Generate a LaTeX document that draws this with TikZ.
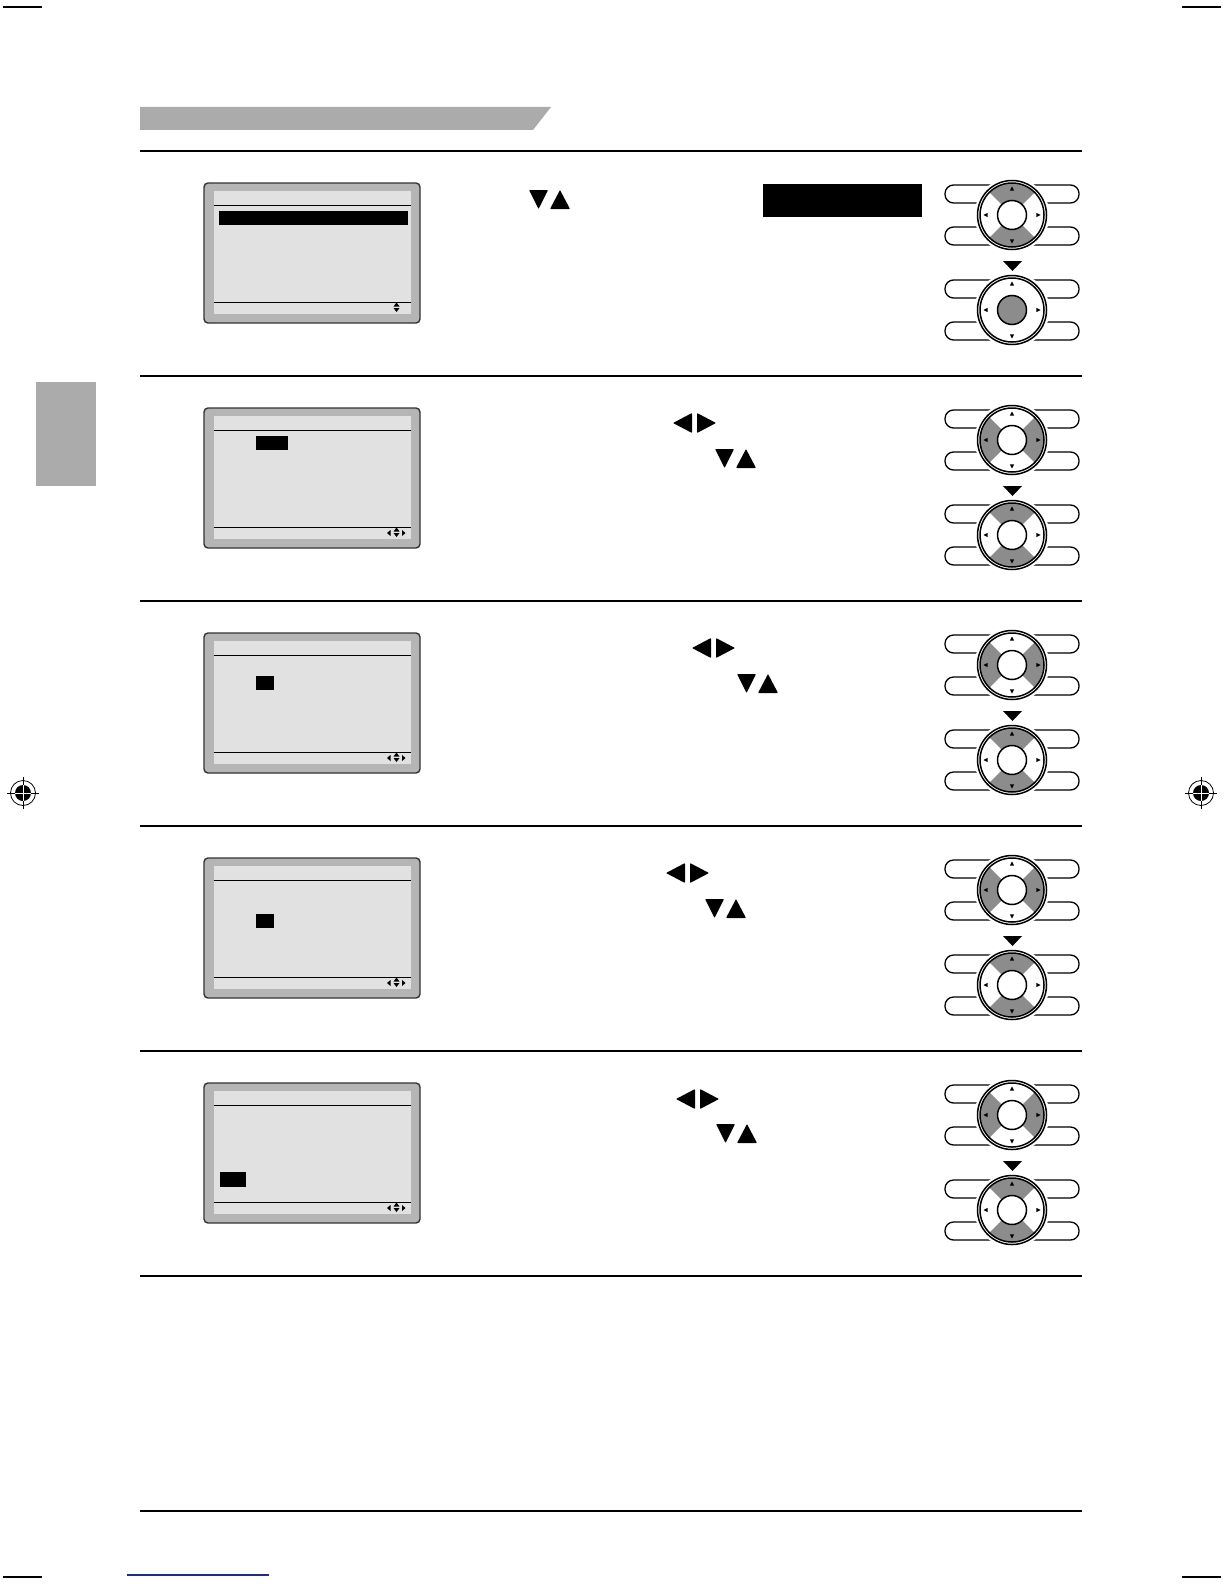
\documentclass[tikz,border=0pt]{standalone}
\usepackage{xcolor}
\usepackage{tikz}
\usetikzlibrary{calc}
\definecolor{bandgray}{HTML}{ABABAB}
\definecolor{framegray}{HTML}{B5B5B5}
\definecolor{lcdgray}{HTML}{E1E1E1}
\definecolor{padgray}{HTML}{8C8C8C}
\definecolor{linkblue}{HTML}{1F2A8F}

\begin{document}
\begin{tikzpicture}[x=1pt, y=1pt,
  rule/.style={line width=#1},
  screen/.style={draw=black!80, fill=framegray, rounded corners=4pt, line width=1.4pt,
                 minimum width=216pt, minimum height=140pt, inner sep=0pt},
  lcd/.style={fill=lcdgray, minimum width=197pt, minimum height=123pt, inner sep=0pt},
  lcdline/.style={line width=1.2pt},
  key/.style={draw, fill=white, line width=1.3pt, rounded corners=8.5pt},
  ring/.style={draw, line width=1.5pt},
  tri/.style={fill=black, rounded corners=0.8pt},
  pics/keypad/.style n args={3}{code={
    \foreach \sx in {-1,1}
      \foreach \sy in {-1,1}
        \draw[key] (0,\sy*21-9) rectangle (\sx*67,\sy*21+9);
    \fill[white] (0,0) circle[radius=37.5];
    \draw[ring, fill=white] (0,0) circle[radius=34.5];
    \foreach \s in {0,180}
      \fill[#2] (#1+\s:15) arc[start angle=#1+\s, end angle=#1+\s+90, radius=15]
        -- (#1+\s+90:32) arc[start angle=#1+\s+90, end angle=#1+\s, radius=32] -- cycle;
    \draw[ring] (0,0) circle[radius=32];
    \draw[ring, fill=#3] (0,0) circle[radius=14.5];
    \foreach \a in {0,90,180,270}
      \fill (\a:28.5) -- (\a+5:24.5) -- (\a-5:24.5) -- cycle;
  }},
]
  \useasboundingbox (0,0) rectangle (1224,-1584);

  % crop and registration marks
  \foreach \cx/\cy in {3/7, 1182/7, 3/1577, 1182/1577}
    \draw[line width=1.5pt] (\cx,-\cy) -- (\cx+39,-\cy);
  \draw[linkblue, line width=1.2pt] (127,-1575) -- (269,-1575);
  \foreach \mx in {23,1201} {
    \draw[line width=0.8pt] (\mx,-793) circle[radius=12.5];
    \draw[line width=1pt] (\mx-16,-793) -- (\mx+16,-793) (\mx,-777) -- (\mx,-809);
    \fill (\mx,-793) circle[radius=8];
    \draw[white, line width=1pt] (\mx-8,-793) -- (\mx+8,-793) (\mx,-785) -- (\mx,-801);
  }

  % heading band, side tab, rules
  \fill[bandgray] (140,-107) -- (551,-107) -- (533,-130) -- (140,-130) -- cycle;
  \fill[bandgray] (36,-382) rectangle (96,-486);
  \draw[rule=2.2pt] (140,-151) -- (1082,-151);
  \foreach \ry/\rw in {376/1.6pt, 601/1.6pt, 826/1.6pt, 1051/2.6pt, 1276/2.6pt}
    \draw[rule=\rw] (140,-\ry) -- (1082,-\ry);
  \draw[rule=1.1pt] (140,-1511) -- (1082,-1511);

  % steps: screen + keypads
  \foreach \row/\topa/\bota/\botc/\btnc/\xa/\ya/\xb/\yb in {
      1/45/45/white/padgray/219/211/408/225,
      2/135/45/padgray/white/256/211/288/225,
      3/135/45/padgray/white/255.5/225.5/273.5/239.5,
      4/135/45/padgray/white/255.5/239/273.5/253,
      5/135/45/padgray/white/220/272/246/287} {
    \pgfmathsetmacro{\dy}{225*(\row-1)}
    \node[screen] (scr\row) at (312,-253-\dy) {};
    \node[lcd] (lcd\row) at (312.5,-252.5-\dy) {};
    \draw[lcdline] ([yshift=-15pt]lcd\row.north west) -- ([yshift=-15pt]lcd\row.north east);
    \draw[lcdline] ([yshift=12pt]lcd\row.south west) -- ([yshift=12pt]lcd\row.south east);
    \fill (\xa,-\ya-\dy) rectangle (\xb,-\yb-\dy);
    \fill (393.5,-306.5-\dy) -- (399.5,-306.5-\dy) -- (396.5,-302.5-\dy) -- cycle;
    \fill (393.5,-308-\dy) -- (399.5,-308-\dy) -- (396.5,-312-\dy) -- cycle;
    \pic at (1012,-215-\dy) {keypad={\topa}{padgray}{white}};
    \fill (1003,-261-\dy) -- (1022,-261-\dy) -- (1012.5,-271-\dy) -- cycle;
    \pic at (1012,-310-\dy) {keypad={\bota}{\botc}{\btnc}};
  }
  \foreach \row in {2,...,5} {
    \pgfmathsetmacro{\dy}{225*(\row-1)}
    \fill (387,-308-\dy) -- (390.5,-305-\dy) -- (390.5,-311-\dy) -- cycle;
    \fill (405.5,-308-\dy) -- (402,-305-\dy) -- (402,-311-\dy) -- cycle;
  }

  % key symbols in the text column
  \fill (763,-184) rectangle (922,-217);
  \foreach \vx/\vy in {529/190, 715/449, 737/674, 705/899, 716/1124} {
    \fill[tri] (\vx,-\vy) -- (\vx+19,-\vy) -- (\vx+9.5,-\vy-19) -- cycle;
    \fill[tri] (\vx+21,-\vy-19) -- (\vx+41,-\vy-19) -- (\vx+31,-\vy) -- cycle;
  }
  \foreach \hx/\hy in {673/413, 692/638, 666/863, 676/1089} {
    \fill[tri] (\hx,-\hy-10) -- (\hx+19,-\hy) -- (\hx+19,-\hy-20) -- cycle;
    \fill[tri] (\hx+24,-\hy) -- (\hx+43,-\hy-10) -- (\hx+24,-\hy-20) -- cycle;
  }
\end{tikzpicture}
\end{document}
